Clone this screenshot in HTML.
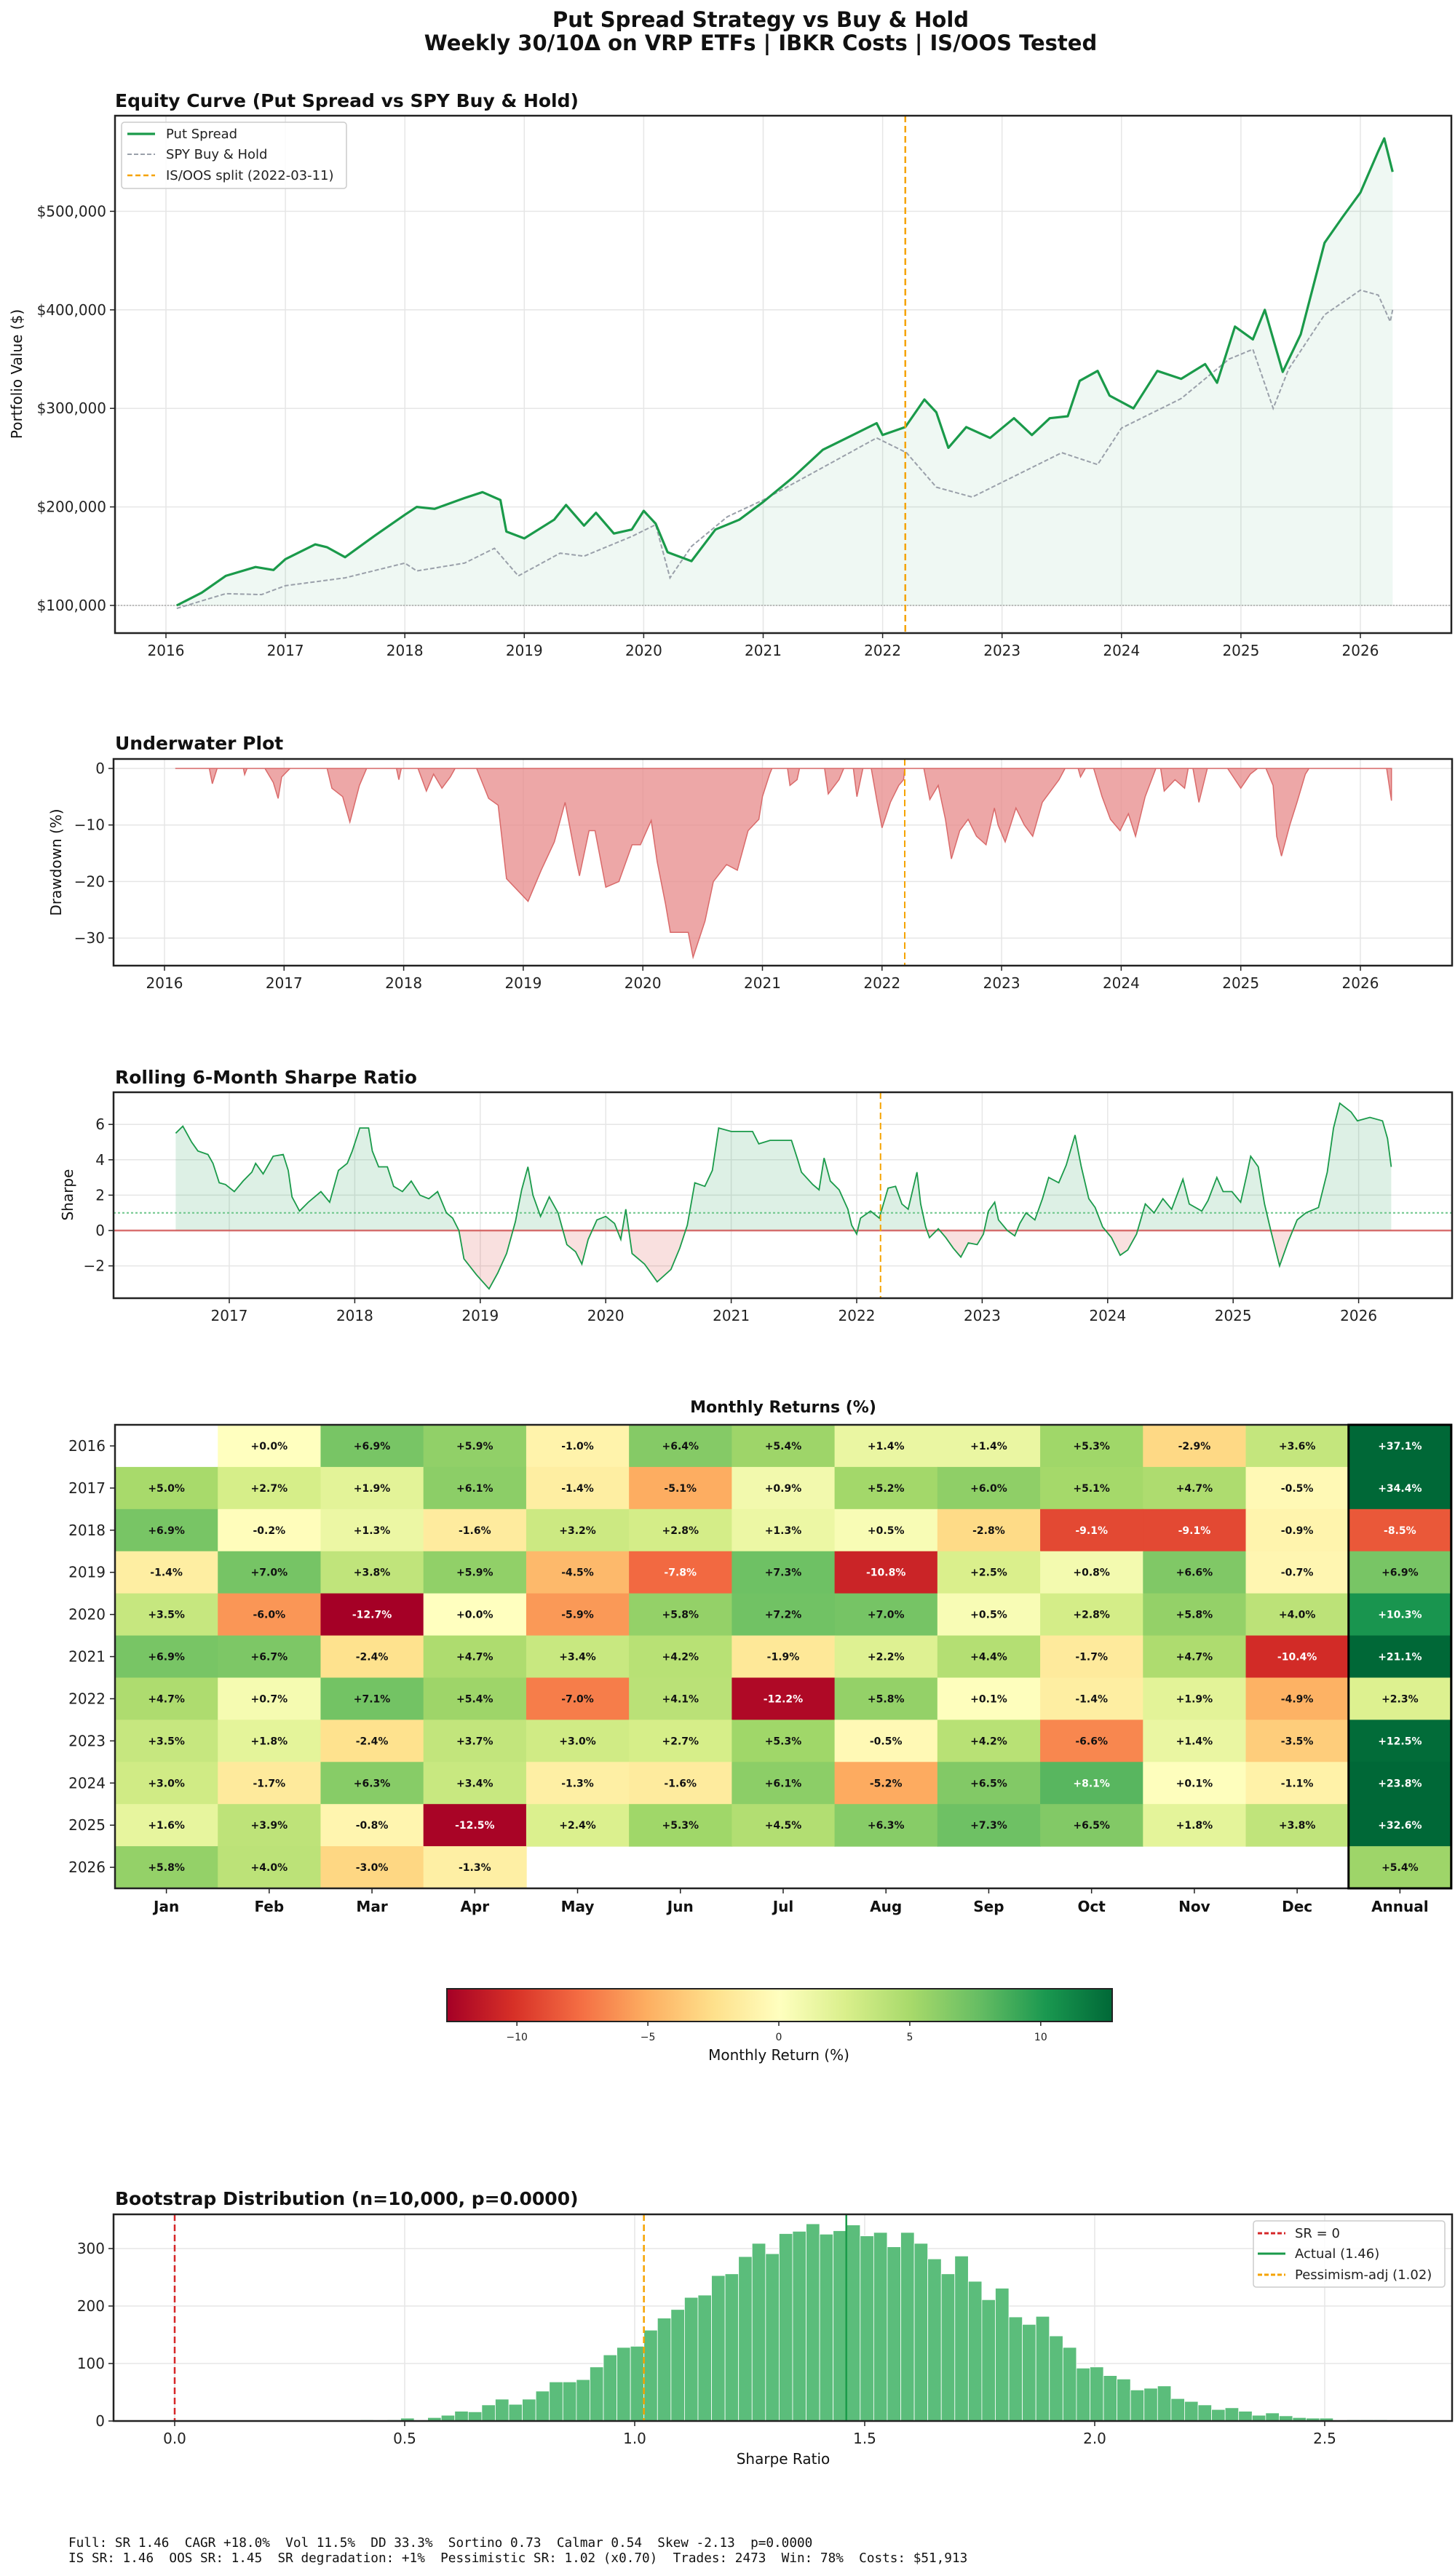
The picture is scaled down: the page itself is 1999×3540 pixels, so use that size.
<!DOCTYPE html>
<html><head><meta charset="utf-8">
<style>
html,body{margin:0;padding:0;background:#fff;}
svg{display:block;font-family:"DejaVu Sans","Liberation Sans",sans-serif;}
</style></head>
<body>
<svg id="fig" xmlns="http://www.w3.org/2000/svg" width="1999" height="3540" viewBox="0 0 1999 3540">
<rect x="0" y="0" width="1999" height="3540" fill="#fff"/>
<text x="1045" y="37" text-anchor="middle" font-size="29" font-weight="bold" fill="#111">Put Spread Strategy vs Buy &amp; Hold</text>
<text x="1045" y="69" text-anchor="middle" font-size="29" font-weight="bold" fill="#111">Weekly 30/10Δ on VRP ETFs | IBKR Costs | IS/OOS Tested</text>
<text x="158" y="147" font-size="25" font-weight="bold" fill="#111">Equity Curve (Put Spread vs SPY Buy &amp; Hold)</text>
<text x="158" y="1030" font-size="25" font-weight="bold" fill="#111">Underwater Plot</text>
<text x="158" y="1489" font-size="25" font-weight="bold" fill="#111">Rolling 6-Month Sharpe Ratio</text>
<text x="1076" y="1941" text-anchor="middle" font-size="22" font-weight="bold" fill="#111">Monthly Returns (%)</text>
<text x="158" y="3030" font-size="25" font-weight="bold" fill="#111">Bootstrap Distribution (n=10,000, p=0.0000)</text>
<text transform="translate(30,514) rotate(-90)" text-anchor="middle" font-size="20" fill="#111">Portfolio Value ($)</text>
<text transform="translate(84,1185) rotate(-90)" text-anchor="middle" font-size="20" fill="#111">Drawdown (%)</text>
<text transform="translate(100,1642) rotate(-90)" text-anchor="middle" font-size="20" fill="#111">Sharpe</text>
<text x="1070" y="2831" text-anchor="middle" font-size="20" fill="#111">Monthly Return (%)</text>
<text x="1076" y="3386" text-anchor="middle" font-size="20" fill="#111">Sharpe Ratio</text>
<text x="94" y="3500" font-family="DejaVu Sans Mono, Liberation Mono, monospace" font-size="17.7" fill="#111" xml:space="preserve">Full: SR 1.46  CAGR +18.0%  Vol 11.5%  DD 33.3%  Sortino 0.73  Calmar 0.54  Skew -2.13  p=0.0000</text>
<text x="94" y="3521" font-family="DejaVu Sans Mono, Liberation Mono, monospace" font-size="17.7" fill="#111" xml:space="preserve">IS SR: 1.46  OOS SR: 1.45  SR degradation: +1%  Pessimistic SR: 1.02 (x0.70)  Trades: 2473  Win: 78%  Costs: $51,913</text>
<defs>
<linearGradient id="rdylgn" x1="0" x2="1" y1="0" y2="0">
<stop offset="0" stop-color="#a50026"/><stop offset="0.1" stop-color="#d73027"/><stop offset="0.2" stop-color="#f46d43"/><stop offset="0.3" stop-color="#fdae61"/><stop offset="0.4" stop-color="#fee08b"/><stop offset="0.5" stop-color="#ffffbf"/><stop offset="0.6" stop-color="#d9ef8b"/><stop offset="0.7" stop-color="#a6d96a"/><stop offset="0.8" stop-color="#66bd63"/><stop offset="0.9" stop-color="#1a9850"/><stop offset="1" stop-color="#006837"/>
</linearGradient>
<clipPath id="shAbove"><rect x="156" y="1501" width="1839" height="190"/></clipPath>
<clipPath id="shBelow"><rect x="156" y="1691" width="1839" height="93"/></clipPath>
</defs>
<rect x="614" y="2733" width="914" height="45" fill="url(#rdylgn)" stroke="#222" stroke-width="2"/>
</svg>
<script>
// ---------- DATA ----------
const eqDates=[2016.09,2016.3,2016.5,2016.75,2016.9,2017.0,2017.25,2017.35,2017.5,2017.75,2018.0,2018.1,2018.25,2018.5,2018.65,2018.8,2018.85,2019.0,2019.25,2019.35,2019.5,2019.6,2019.75,2019.9,2020.0,2020.1,2020.2,2020.4,2020.6,2020.8,2021.0,2021.25,2021.5,2021.75,2021.95,2022.0,2022.19,2022.35,2022.45,2022.55,2022.7,2022.9,2023.1,2023.25,2023.4,2023.55,2023.65,2023.8,2023.9,2024.1,2024.3,2024.5,2024.7,2024.8,2024.95,2025.1,2025.2,2025.35,2025.5,2025.7,2025.85,2026.0,2026.15,2026.2,2026.27];
const eqValues=[100000,113000,130000,139000,136000,147000,162000,159000,149000,171000,192000,200000,198000,209000,215000,207000,175000,168000,187000,202000,181000,194000,173000,177000,196000,183000,154000,145000,177000,187000,205000,230000,258000,273000,285000,273000,281000,309000,296000,260000,281000,270000,290000,273000,290000,292000,328000,338000,313000,300000,338000,330000,345000,326000,383000,370000,400000,337000,375000,468000,494000,519000,561000,574000,540000];
const spyDates=[2016.09,2016.5,2016.8,2017.0,2017.5,2018.0,2018.1,2018.5,2018.75,2018.95,2019.3,2019.5,2019.9,2020.1,2020.22,2020.4,2020.7,2021.0,2021.5,2021.95,2022.2,2022.45,2022.75,2023.0,2023.5,2023.8,2024.0,2024.5,2024.9,2025.1,2025.27,2025.4,2025.7,2026.0,2026.15,2026.25,2026.27];
const spyValues=[97000,112000,111000,120000,128000,143000,135000,143000,158000,130000,153000,150000,170000,182000,128000,160000,190000,207000,240000,270000,255000,220000,210000,225000,255000,243000,280000,310000,350000,360000,300000,340000,395000,420000,415000,388000,400000];
const splitDate=2022.19;
const ddDates=[2016.09,2016.375,2016.40,2016.44,2016.66,2016.67,2016.69,2016.84,2016.91,2016.95,2016.98,2017.05,2017.36,2017.40,2017.49,2017.55,2017.63,2017.69,2017.94,2017.96,2017.98,2018.12,2018.19,2018.25,2018.32,2018.39,2018.43,2018.61,2018.71,2018.79,2018.86,2019.04,2019.15,2019.26,2019.35,2019.44,2019.47,2019.55,2019.60,2019.69,2019.80,2019.91,2019.98,2020.07,2020.12,2020.19,2020.23,2020.38,2020.42,2020.52,2020.59,2020.70,2020.79,2020.88,2020.97,2021.00,2021.06,2021.08,2021.21,2021.23,2021.29,2021.31,2021.52,2021.55,2021.64,2021.68,2021.76,2021.79,2021.84,2021.91,2021.96,2022.00,2022.07,2022.14,2022.18,2022.19,2022.35,2022.40,2022.47,2022.53,2022.58,2022.65,2022.72,2022.79,2022.87,2022.94,2022.97,2023.03,2023.12,2023.19,2023.26,2023.34,2023.48,2023.53,2023.64,2023.66,2023.70,2023.77,2023.84,2023.91,2023.99,2024.06,2024.12,2024.20,2024.29,2024.33,2024.36,2024.45,2024.53,2024.56,2024.60,2024.65,2024.72,2024.89,2025.00,2025.08,2025.14,2025.21,2025.27,2025.30,2025.34,2025.41,2025.47,2025.54,2025.57,2026.22,2026.26];
const ddValues=[0,0,-2.7,0,0,-1.1,0,0,-2.5,-5.3,-1.5,0,0,-3.5,-5,-9.5,-3,0,0,-2,0,0,-4,-1,-3.5,-1.5,0,0,-5.3,-6.5,-19.5,-23.5,-18,-13,-6,-16,-19,-11,-11,-21,-20,-13.5,-13.5,-9.2,-16.5,-24,-29,-29,-33.4,-27,-20,-17,-18,-11,-9,-5,-1,0,0,-3,-2,0,0,-4.5,-2,0,0,-5,0,0,-6,-10.5,-6,-3,-2,0,0,-5.5,-3,-9,-16,-11,-9,-12,-13.5,-7,-10,-13,-7,-10,-12,-6,-2,0,0,-1.5,0,0,-5,-9,-11,-8,-12,-5,0,0,-4,-2,-3.5,0,0,-6,0,0,-3.5,-1,0,0,-3,-12,-15.5,-10,-6,-1,0,0,-5.7];
const shDates=[2016.573,2016.63,2016.70,2016.75,2016.83,2016.87,2016.92,2016.97,2017.04,2017.11,2017.18,2017.21,2017.27,2017.35,2017.43,2017.47,2017.50,2017.56,2017.63,2017.73,2017.80,2017.87,2017.94,2017.98,2018.04,2018.11,2018.14,2018.19,2018.26,2018.31,2018.38,2018.45,2018.52,2018.59,2018.66,2018.73,2018.78,2018.83,2018.87,2018.97,2019.07,2019.14,2019.21,2019.28,2019.33,2019.38,2019.42,2019.48,2019.55,2019.62,2019.69,2019.76,2019.81,2019.86,2019.93,2020.00,2020.07,2020.12,2020.16,2020.21,2020.31,2020.41,2020.52,2020.59,2020.65,2020.71,2020.79,2020.85,2020.90,2021.00,2021.17,2021.22,2021.31,2021.48,2021.53,2021.56,2021.65,2021.70,2021.74,2021.79,2021.86,2021.93,2021.96,2022.00,2022.03,2022.11,2022.18,2022.25,2022.31,2022.36,2022.41,2022.48,2022.51,2022.55,2022.58,2022.65,2022.71,2022.77,2022.83,2022.89,2022.96,2023.01,2023.05,2023.10,2023.13,2023.20,2023.26,2023.30,2023.35,2023.42,2023.48,2023.53,2023.61,2023.67,2023.74,2023.79,2023.85,2023.90,2023.96,2024.03,2024.10,2024.16,2024.23,2024.30,2024.37,2024.44,2024.51,2024.60,2024.65,2024.75,2024.80,2024.87,2024.92,2024.99,2025.06,2025.11,2025.14,2025.20,2025.25,2025.30,2025.37,2025.44,2025.51,2025.58,2025.68,2025.75,2025.80,2025.85,2025.94,2025.99,2026.09,2026.19,2026.23,2026.26];
const shValues=[5.5,5.9,5.0,4.5,4.3,3.8,2.7,2.6,2.2,2.8,3.3,3.8,3.2,4.2,4.3,3.4,1.9,1.1,1.6,2.2,1.6,3.4,3.8,4.5,5.8,5.8,4.5,3.6,3.6,2.5,2.2,2.8,2.0,1.8,2.2,1.0,0.7,0.0,-1.6,-2.5,-3.3,-2.4,-1.3,0.5,2.3,3.6,2.0,0.8,1.9,1.0,-0.8,-1.2,-1.9,-0.5,0.6,0.8,0.4,-0.5,1.2,-1.3,-1.9,-2.9,-2.2,-1.0,0.3,2.7,2.5,3.4,5.8,5.6,5.6,4.9,5.1,5.1,4.0,3.3,2.6,2.3,4.1,2.8,2.3,1.2,0.3,-0.2,0.7,1.1,0.7,2.4,2.5,1.5,1.2,3.3,1.5,0.2,-0.4,0.1,-0.4,-1.0,-1.5,-0.7,-0.8,-0.2,1.1,1.6,0.6,0.0,-0.3,0.4,1.0,0.6,1.8,3.0,2.7,3.7,5.4,3.6,1.8,1.3,0.2,-0.4,-1.4,-1.1,-0.2,1.5,1.0,1.8,1.2,2.9,1.5,1.1,1.7,3.0,2.2,2.2,1.6,3.2,4.2,3.6,1.5,0.0,-2.0,-0.6,0.6,1.0,1.3,3.3,5.8,7.2,6.7,6.2,6.4,6.2,5.2,3.6];
const sharpeTarget=1.0;
const years=['2016','2017','2018','2019','2020','2021','2022','2023','2024','2025','2026'];
const months=['Jan','Feb','Mar','Apr','May','Jun','Jul','Aug','Sep','Oct','Nov','Dec','Annual'];
const monthly=[
[null,0.0,6.9,5.9,-1.0,6.4,5.4,1.4,1.4,5.3,-2.9,3.6,37.1],
[5.0,2.7,1.9,6.1,-1.4,-5.1,0.9,5.2,6.0,5.1,4.7,-0.5,34.4],
[6.9,-0.2,1.3,-1.6,3.2,2.8,1.3,0.5,-2.8,-9.1,-9.1,-0.9,-8.5],
[-1.4,7.0,3.8,5.9,-4.5,-7.8,7.3,-10.8,2.5,0.8,6.6,-0.7,6.9],
[3.5,-6.0,-12.7,0.0,-5.9,5.8,7.2,7.0,0.5,2.8,5.8,4.0,10.3],
[6.9,6.7,-2.4,4.7,3.4,4.2,-1.9,2.2,4.4,-1.7,4.7,-10.4,21.1],
[4.7,0.7,7.1,5.4,-7.0,4.1,-12.2,5.8,0.1,-1.4,1.9,-4.9,2.3],
[3.5,1.8,-2.4,3.7,3.0,2.7,5.3,-0.5,4.2,-6.6,1.4,-3.5,12.5],
[3.0,-1.7,6.3,3.4,-1.3,-1.6,6.1,-5.2,6.5,8.1,0.1,-1.1,23.8],
[1.6,3.9,-0.8,-12.5,2.4,5.3,4.5,6.3,7.3,6.5,1.8,3.8,32.6],
[5.8,4.0,-3.0,-1.3,null,null,null,null,null,null,null,null,5.4]];
const bsStart=0.315;
const bsWidth=0.02938;
const bsCounts=[1,1,1,2,1,2,5,0,6,10,17,16,28,38,29,38,52,68,68,72,94,115,128,130,158,179,194,215,219,253,256,286,309,291,326,330,343,325,331,341,322,328,303,328,309,282,256,287,243,211,231,181,168,182,148,128,92,94,79,73,54,57,61,39,34,28,20,23,17,10,14,9,6,5,5,0,2,2,2];
const srActual=1.46;
const srPess=1.02;
const eqYTicks=[100000,200000,300000,400000,500000];
const yearTicks=[2016,2017,2018,2019,2020,2021,2022,2023,2024,2025,2026];
const shYearTicks=[2017,2018,2019,2020,2021,2022,2023,2024,2025,2026];
const ddYTicks=[0,-10,-20,-30];
const shYTicks=[-2,0,2,4,6];
const bsXTicks=[0,0.5,1.0,1.5,2.0,2.5];
const bsYTicks=[0,100,200,300];
const cbTicks=[-10,-5,0,5,10];
const cbMax=12.7;

// ---------- SCALES ----------
const eqX=y=>228+(y-2016)*164.1, eqY=v=>832-(v-100000)*135.4/100000;
const ddX=y=>226+(y-2016)*164.3, ddY=d=>1056-d*7.77;
const shX=y=>315+(y-2017)*172.4, shY=s=>1691-s*24.3;
const bsX=s=>240+s*632, bsY=c=>3327-c*0.79;
const hmX=j=>158+j*141.23, hmY=i=>1958+i*57.91;
const cbX=v=>1070+v*(457/cbMax);

const NS='http://www.w3.org/2000/svg';
const svg=document.getElementById('fig');
function mk(tag,attrs,parent){const e=document.createElementNS(NS,tag);for(const k in attrs)e.setAttribute(k,attrs[k]);(parent||svg).appendChild(e);return e;}
function fmtMinus(v){return String(v).replace('-','\u2212');}

const panels=[
 {name:'equity',x0:158,x1:1994,y0:159,y1:870},
 {name:'underwater',x0:156,x1:1995,y0:1043,y1:1327},
 {name:'sharpe',x0:156,x1:1995,y0:1501,y1:1784},
 {name:'bootstrap',x0:156,x1:1995,y0:3043,y1:3327}];

// grids + ticks
function xTicksFor(p,ticks,fx,fmt){
 ticks.forEach(t=>{
  const x=fx(t);
  const g=mk('line',{x1:x,x2:x,y1:p.y0,y2:p.y1,stroke:'#e6e6e6','stroke-width':1.5});
  
  
  const tk=mk('line',{x1:x,x2:x,y1:p.y1,y2:p.y1+7,stroke:'#222','stroke-width':1.5});
  
  
  const tx=mk('text',{x:x,y:p.y1+31,'text-anchor':'middle','font-size':20,fill:'#222'});
  tx.textContent=fmt(t);
  
  
 });
}
function yTicksFor(p,ticks,fy,fmt){
 ticks.forEach(t=>{
  const y=fy(t);
  const g=mk('line',{x1:p.x0,x2:p.x1,y1:y,y2:y,stroke:'#e6e6e6','stroke-width':1.5});
  
  
  const tk=mk('line',{x1:p.x0-7,x2:p.x0,y1:y,y2:y,stroke:'#222','stroke-width':1.5});
  
  
  const tx=mk('text',{x:p.x0-12,y:y+7,'text-anchor':'end','font-size':20,fill:'#222'});
  tx.textContent=fmt(t);
  
  
 });
}
xTicksFor(panels[0],yearTicks,eqX,t=>t);
yTicksFor(panels[0],eqYTicks,eqY,t=>'$'+t.toLocaleString('en-US'));
xTicksFor(panels[1],yearTicks,ddX,t=>t);
yTicksFor(panels[1],ddYTicks,ddY,fmtMinus);
xTicksFor(panels[2],shYearTicks,shX,t=>t);
yTicksFor(panels[2],shYTicks,shY,fmtMinus);
xTicksFor(panels[3],bsXTicks,bsX,t=>t.toFixed(1));
yTicksFor(panels[3],bsYTicks,bsY,t=>t);

// ---------- EQUITY ----------
let pts=eqDates.map((d,i)=>eqX(d).toFixed(1)+','+eqY(eqValues[i]).toFixed(1));
const eqFill=mk('polygon',{points:eqX(eqDates[0])+','+eqY(100000)+' '+pts.join(' ')+' '+eqX(eqDates[eqDates.length-1])+','+eqY(100000),fill:'#1a9850','fill-opacity':0.07});


const base=mk('line',{x1:158,x2:1994,y1:eqY(100000),y2:eqY(100000),stroke:'#888','stroke-width':1,'stroke-dasharray':'2,2'});


const spyLine=mk('polyline',{points:spyDates.map((d,i)=>eqX(d).toFixed(1)+','+eqY(spyValues[i]).toFixed(1)).join(' '),fill:'none',stroke:'#9aa0aa','stroke-width':2,'stroke-dasharray':'6,3'});


const psLine=mk('polyline',{points:pts.join(' '),fill:'none',stroke:'#1a9a4a','stroke-width':3.2,'stroke-linejoin':'round'});


const split1=mk('line',{x1:eqX(splitDate),x2:eqX(splitDate),y1:159,y2:870,stroke:'#f5a300','stroke-width':2.5,'stroke-dasharray':'9,5'});


// legend
const lg=mk('rect',{x:167,y:168,width:309,height:91,fill:'#fff','fill-opacity':0.85,stroke:'#ccc','stroke-width':1.5,rx:4});


[['Put Spread','#1a9a4a','none',3.2,184],['SPY Buy & Hold','#9aa0aa','6,3',2,212],['IS/OOS split (2022-03-11)','#f5a300','7,4',2.5,241]].forEach(e=>{
 const l=mk('line',{x1:175,x2:213,y1:e[4],y2:e[4],stroke:e[1],'stroke-width':e[3],'stroke-dasharray':e[2]});
 
 
 const t=mk('text',{x:228,y:e[4]+6,'font-size':18,fill:'#222'});
 t.textContent=e[0];
 
 
});

// ---------- UNDERWATER ----------
const ddPts=ddDates.map((d,i)=>ddX(d).toFixed(1)+','+ddY(ddValues[i]).toFixed(1));
const ddArea=mk('polygon',{points:ddX(ddDates[0])+','+ddY(0)+' '+ddPts.join(' ')+' '+ddX(ddDates[ddDates.length-1])+','+ddY(0),fill:'#e78a8a','fill-opacity':0.75,stroke:'#d96a6a','stroke-width':1.5});


const split2=mk('line',{x1:ddX(splitDate),x2:ddX(splitDate),y1:1043,y2:1327,stroke:'#f5a300','stroke-width':2,'stroke-dasharray':'9,5'});



// ---------- SHARPE ----------
const shPts=shDates.map((d,i)=>shX(d).toFixed(1)+','+shY(shValues[i]).toFixed(1));
const shPoly=shX(shDates[0])+','+shY(0)+' '+shPts.join(' ')+' '+shX(shDates[shDates.length-1])+','+shY(0);
const shPos=mk('polygon',{points:shPoly,fill:'#1a9850','fill-opacity':0.15,'clip-path':'url(#shAbove)'});


const shNeg=mk('polygon',{points:shPoly,fill:'#d73027','fill-opacity':0.15,'clip-path':'url(#shBelow)'});


const zero=mk('line',{x1:156,x2:1995,y1:shY(0),y2:shY(0),stroke:'#d04545','stroke-width':2.5,'stroke-opacity':0.75});


const tgt=mk('line',{x1:156,x2:1995,y1:shY(sharpeTarget),y2:shY(sharpeTarget),stroke:'#6cc58a','stroke-width':2,'stroke-dasharray':'3,3'});


const shLine=mk('polyline',{points:shPts.join(' '),fill:'none',stroke:'#1a9a4a','stroke-width':1.8});


const split3=mk('line',{x1:shX(splitDate),x2:shX(splitDate),y1:1501,y2:1784,stroke:'#f5a300','stroke-width':2,'stroke-dasharray':'9,5'});



// ---------- HEATMAP ----------
const stops=['#a50026','#d73027','#f46d43','#fdae61','#fee08b','#ffffbf','#d9ef8b','#a6d96a','#66bd63','#1a9850','#006837'];
function hx(h){return [1,3,5].map(i=>parseInt(h.substr(i,2),16));}
function cmap(v){let t=(Math.max(-cbMax,Math.min(cbMax,v))+cbMax)/(2*cbMax)*10;const i=Math.min(9,Math.floor(t)),f=t-i;const a=hx(stops[i]),b=hx(stops[i+1]);return 'rgb('+a.map((c,k)=>Math.round(c+(b[k]-c)*f)).join(',')+')';}
monthly.forEach((row,i)=>{
 row.forEach((v,j)=>{
  if(v===null)return;
  const r=mk('rect',{x:hmX(j),y:hmY(i),width:142,height:58.5,fill:cmap(v)});
  
  
  const t=mk('text',{x:hmX(j)+70.6,y:hmY(i)+34,'text-anchor':'middle','font-size':14,'font-weight':'bold',fill:Math.abs(v)>7.5?'#fff':'#111'});
  t.textContent=(v>=0?'+':'')+v.toFixed(1)+'%';
  
  
 });
});
years.forEach((y,i)=>{
 const tk=mk('line',{x1:151,x2:158,y1:hmY(i)+29,y2:hmY(i)+29,stroke:'#222','stroke-width':1.5});
 
 
 const t=mk('text',{x:145,y:hmY(i)+36,'text-anchor':'end','font-size':20,fill:'#222'});
 t.textContent=y;
 
 
});
months.forEach((m,j)=>{
 const tk=mk('line',{x1:hmX(j)+70.6,x2:hmX(j)+70.6,y1:2595,y2:2602,stroke:'#222','stroke-width':1.5});
 
 
 const t=mk('text',{x:hmX(j)+70.6,y:2627,'text-anchor':'middle','font-size':20,'font-weight':'bold',fill:'#111'});
 t.textContent=m;
 
 
});
const hmFrame=mk('rect',{x:158,y:1958,width:1836,height:637,fill:'none',stroke:'#222','stroke-width':2.5});


const annFrame=mk('rect',{x:hmX(12),y:1958,width:141,height:637,fill:'none',stroke:'#000','stroke-width':3});



// colorbar ticks
cbTicks.forEach(v=>{
 const tk=mk('line',{x1:cbX(v),x2:cbX(v),y1:2778,y2:2784,stroke:'#222','stroke-width':1.5});
 
 
 const t=mk('text',{x:cbX(v),y:2804,'text-anchor':'middle','font-size':14,fill:'#222'});
 t.textContent=fmtMinus(v);
 
 
});

// ---------- BOOTSTRAP ----------
bsCounts.forEach((c,i)=>{
 if(c<=0)return;
 const x0=bsX(bsStart+i*bsWidth),x1=bsX(bsStart+(i+1)*bsWidth);
 const r=mk('rect',{x:x0,y:bsY(c),width:x1-x0,height:bsY(0)-bsY(c),fill:'#5bbd7b',stroke:'#ffffff','stroke-width':0.8});
 
 
});
const v0=mk('line',{x1:bsX(0),x2:bsX(0),y1:3043,y2:3327,stroke:'#d62728','stroke-width':2.5,'stroke-dasharray':'9,5'});


const vA=mk('line',{x1:bsX(srActual),x2:bsX(srActual),y1:3043,y2:3327,stroke:'#1a9a4a','stroke-width':2.5});


const vP=mk('line',{x1:bsX(srPess),x2:bsX(srPess),y1:3043,y2:3327,stroke:'#f5a300','stroke-width':2.5,'stroke-dasharray':'9,5'});


const blg=mk('rect',{x:1722,y:3052,width:263,height:91,fill:'#fff','fill-opacity':0.85,stroke:'#ccc','stroke-width':1.5,rx:4});


[['SR = 0','#d62728','6,3',3069],['Actual (1.46)','#1a9a4a','none',3097],['Pessimism-adj (1.02)','#f5a300','6,3',3126]].forEach(e=>{
 const l=mk('line',{x1:1728,x2:1766,y1:e[3],y2:e[3],stroke:e[1],'stroke-width':3,'stroke-dasharray':e[2]});
 
 
 const t=mk('text',{x:1779,y:e[3]+6,'font-size':18,fill:'#222'});
 t.textContent=e[0];
 
 
});

// frames
panels.forEach(p=>{
 const f=mk('rect',{x:p.x0,y:p.y0,width:p.x1-p.x0,height:p.y1-p.y0,fill:'none',stroke:'#222','stroke-width':2.5});
 
 
});
</script>
</body></html>
